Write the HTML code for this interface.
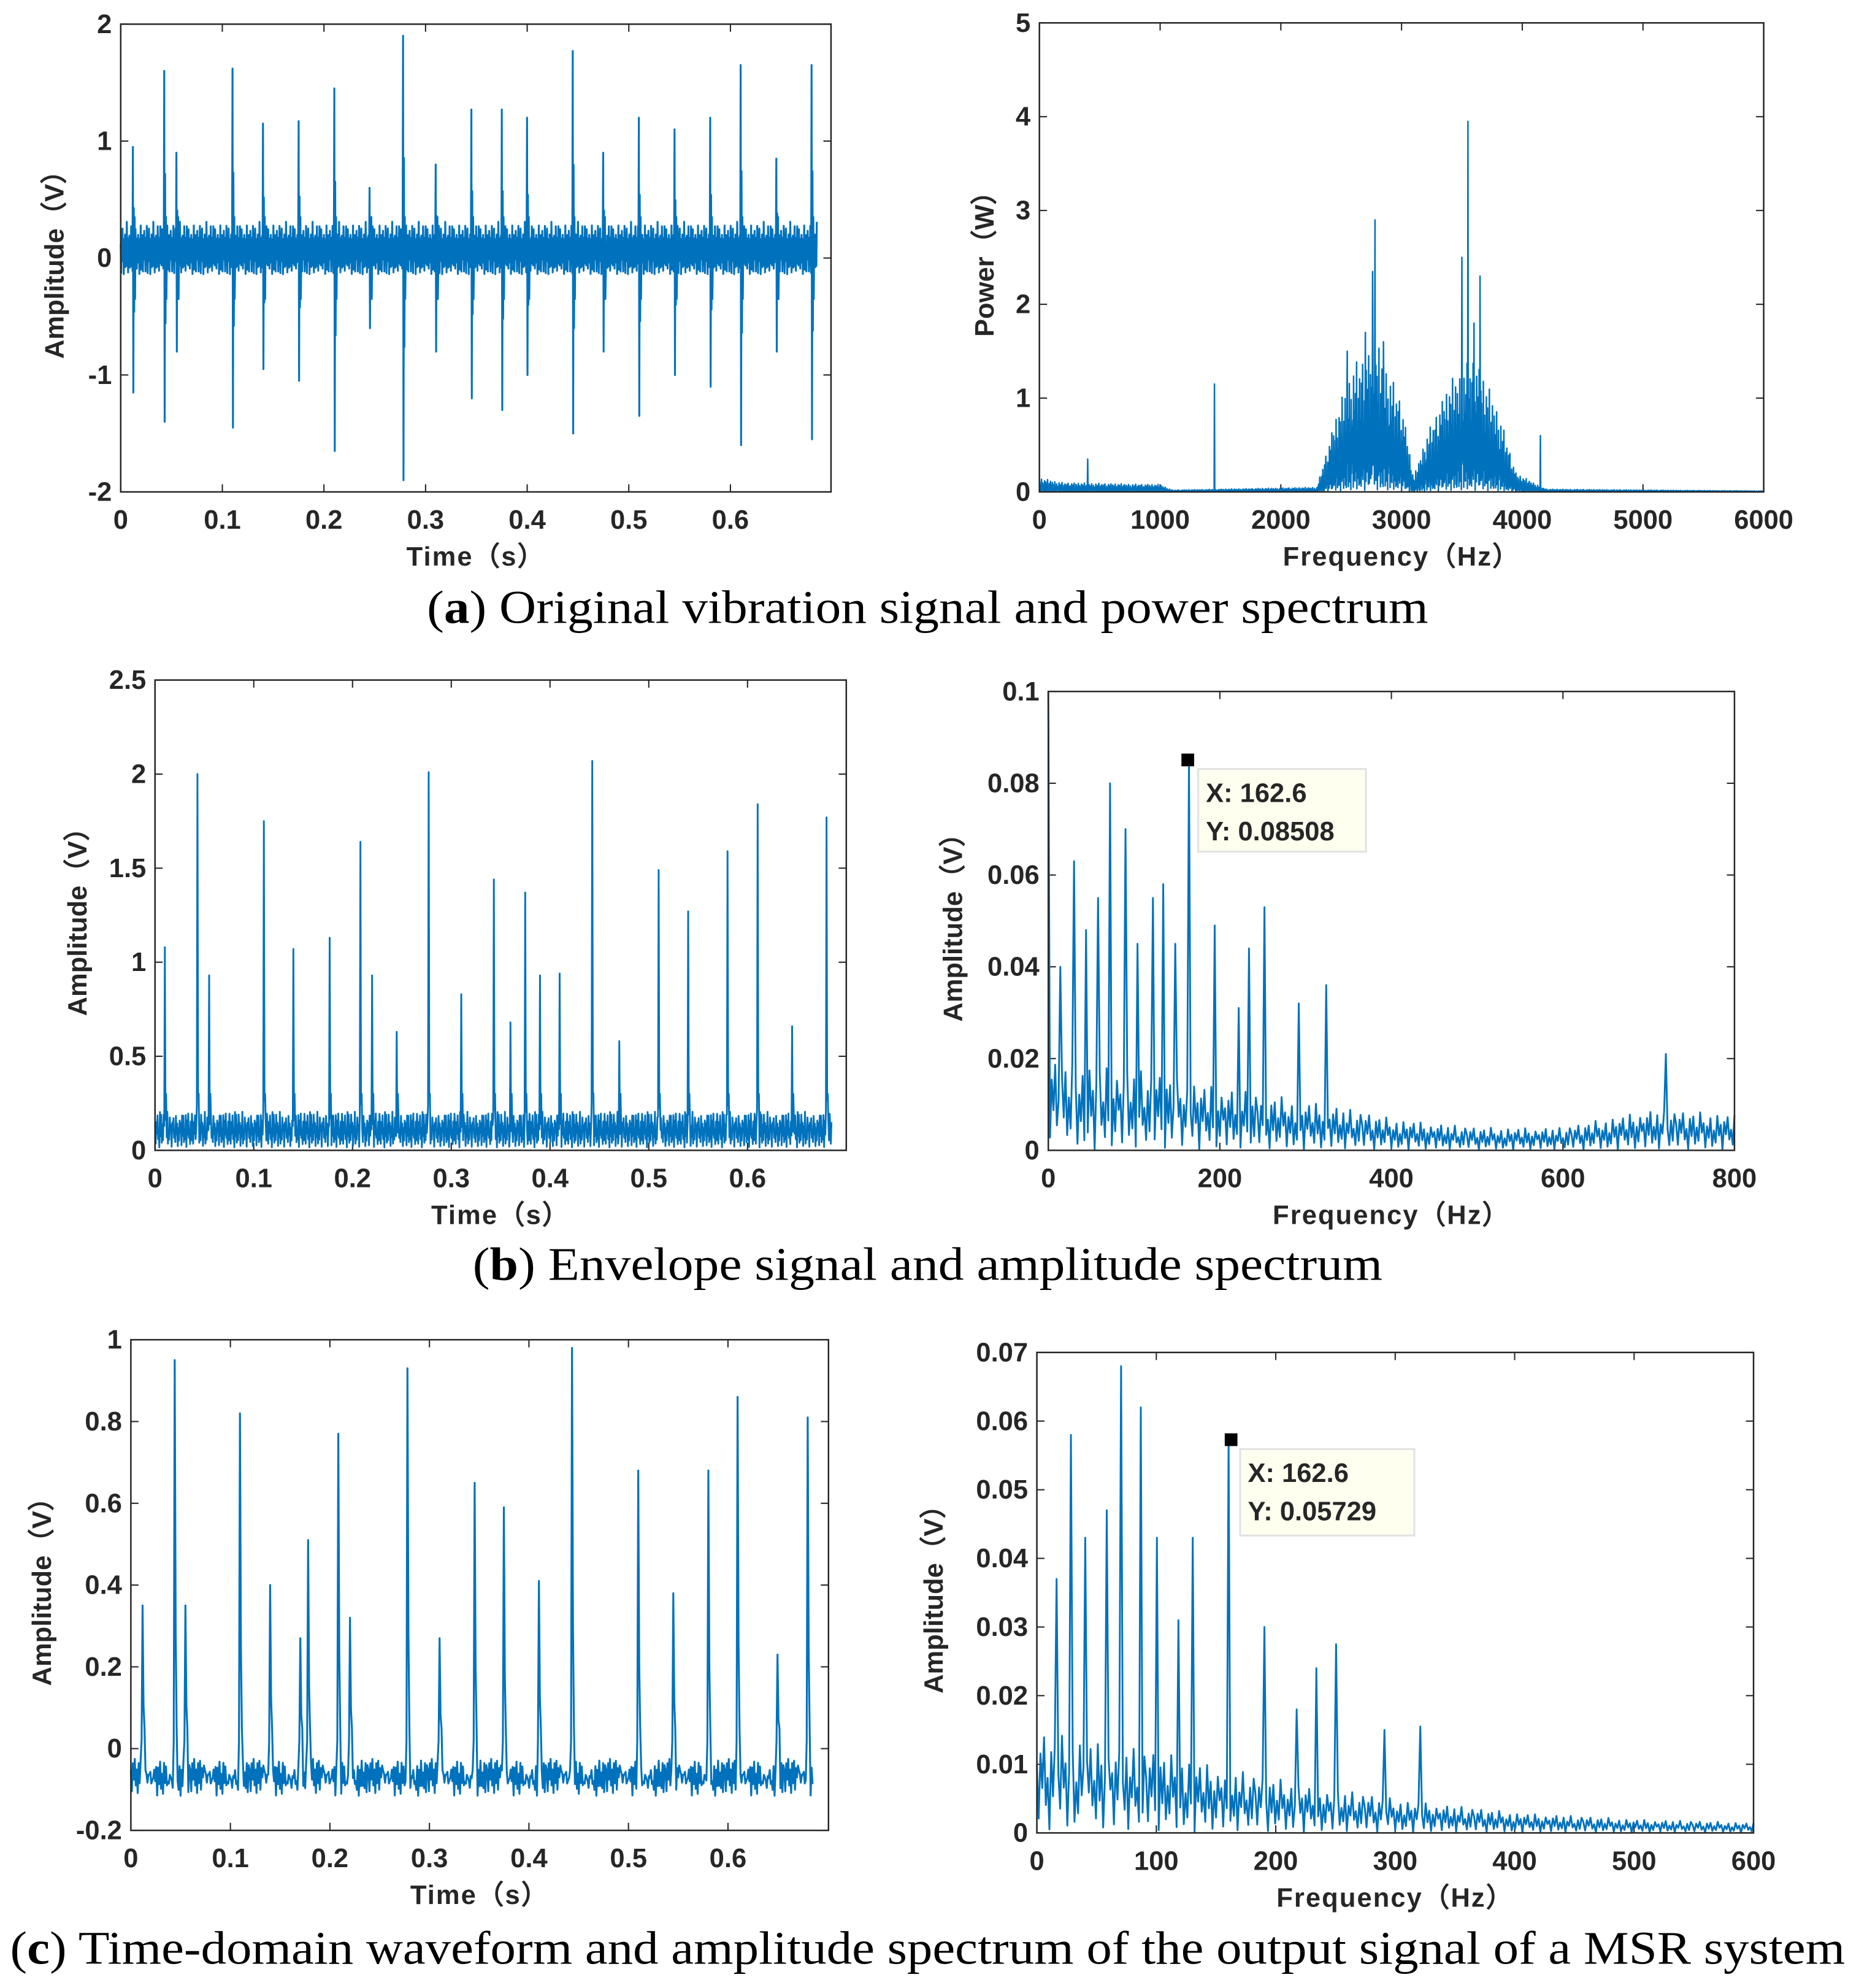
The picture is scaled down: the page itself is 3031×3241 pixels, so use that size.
<!DOCTYPE html>
<html><head><meta charset="utf-8"><style>
html,body{margin:0;padding:0;background:#fff}
svg{display:block}
text{font-family:"Liberation Sans",Arial,sans-serif;font-weight:bold;fill:#262626}
.cap{font-family:"Liberation Serif",serif;font-weight:normal;fill:#000;font-size:37px}
</style></head><body>
<svg id="fig" width="3031" height="3241" viewBox="0 0 1463 1564" preserveAspectRatio="none" xmlns="http://www.w3.org/2000/svg">
<text class="cap" x="730" y="490" text-anchor="middle" textLength="788" lengthAdjust="spacingAndGlyphs">(<tspan font-weight="bold">a</tspan>) Original vibration signal and power spectrum</text>
<text class="cap" x="730" y="1007" text-anchor="middle" textLength="716" lengthAdjust="spacingAndGlyphs">(<tspan font-weight="bold">b</tspan>) Envelope signal and amplitude spectrum</text>
<text class="cap" x="730" y="1545" text-anchor="middle" textLength="1444" lengthAdjust="spacingAndGlyphs">(<tspan font-weight="bold">c</tspan>) Time-domain waveform and amplitude spectrum of the output signal of a MSR system</text>
</svg>
<script>
const NS="http://www.w3.org/2000/svg";
const svg=document.getElementById('fig');
const BLUE="#0072BD";
// ---- data ----
const noise=[0.31,-0.72,0.55,-0.12,0.88,-0.45,0.09,-0.93,0.61,-0.27,0.74,-0.66,0.18,-0.51,0.97,-0.08,0.42,-0.85,0.26,-0.34,0.69,-0.77,0.05,-0.59,0.83,-0.21,0.37,-0.98,0.52,-0.14,0.79,-0.41,0.12,-0.69,0.92,-0.3,0.47,-0.88,0.21,-0.55,0.65,-0.04,0.33,-0.81,0.58,-0.25,0.86,-0.63,0.15,-0.47,0.72,-0.91,0.28,-0.18,0.95,-0.37,0.06,-0.74,0.49,-0.52,0.81];
const aSpikeT=[0.012,0.043,0.055,0.11,0.14,0.175,0.21,0.245,0.278,0.31,0.345,0.375,0.40,0.445,0.475,0.51,0.545,0.58,0.61,0.645,0.68];
const aSpikeUp=[0.95,1.6,0.9,1.62,1.15,1.17,1.45,0.6,1.9,0.8,1.27,1.27,1.2,1.77,0.9,1.2,1.1,1.2,1.65,0.85,1.65];
const aSpikeDn=[-1.15,-1.4,-0.8,-1.45,-0.95,-1.05,-1.65,-0.6,-1.9,-0.8,-1.2,-1.3,-1.0,-1.5,-0.8,-1.35,-1.0,-1.1,-1.6,-0.8,-1.55];
const pBandF=[0,200,1000,1100,2300,2450,2600,2800,3000,3100,3200,3400,3600,3800,3950,4200,6000];
const pBandA=[0.15,0.1,0.08,0.02,0.05,0.8,1.4,1.6,1.0,0.15,0.6,1.2,1.5,0.9,0.2,0.03,0.01];
const pPeakF=[400,1450,2550,2700,2760,2780,2850,3500,3550,3600,3650,4150];
const pPeakA=[0.35,1.15,1.5,1.7,2.35,2.9,1.6,2.5,3.95,1.8,2.3,0.6];
const bSpikeT=[0.01,0.043,0.055,0.11,0.14,0.177,0.208,0.22,0.245,0.277,0.31,0.343,0.36,0.375,0.39,0.41,0.443,0.47,0.51,0.54,0.58,0.61,0.645,0.68];
const bSpikeY=[1.08,2.0,0.93,1.75,1.07,1.13,1.64,0.93,0.63,2.01,0.83,1.44,0.68,1.37,0.93,0.94,2.07,0.58,1.49,1.27,1.59,1.84,0.66,1.77];
const bsPeakF=[0,13,30,43,58,71,89,104,121,134,147,163,193,222,234,252,291,324,720];
const bsPeakA=[0.1,0.04,0.063,0.048,0.055,0.08,0.07,0.045,0.055,0.058,0.045,0.08508,0.049,0.031,0.044,0.053,0.032,0.036,0.021];
const bsFloorF=[0,100,200,330,400,500,600,700,800];
const bsFloorA=[0.02,0.018,0.014,0.01,0.007,0.005,0.005,0.009,0.008];
const cSpikeT=[0.012,0.044,0.055,0.11,0.14,0.17,0.178,0.208,0.22,0.278,0.31,0.345,0.375,0.41,0.443,0.51,0.545,0.58,0.61,0.65,0.68];
const cSpikeY=[0.35,0.95,0.35,0.82,0.4,0.27,0.51,0.77,0.32,0.93,0.27,0.65,0.59,0.41,0.98,0.68,0.38,0.68,0.86,0.23,0.81];
const csPeakF=[17,29,41,59,70,87,101,119,131,161,190,218,234,250,291,321];
const csPeakA=[0.037,0.058,0.043,0.047,0.068,0.062,0.043,0.031,0.043,0.05729,0.03,0.018,0.024,0.0275,0.015,0.0155];
const csFloorF=[0,100,200,300,400,500,600];
const csFloorA=[0.015,0.012,0.008,0.005,0.003,0.002,0.0015];
// ---- helpers ----
function el(tag,attrs,parent){const e=document.createElementNS(NS,tag);for(const k in attrs)e.setAttribute(k,attrs[k]);(parent||svg).appendChild(e);return e;}
function interp(xs,ys,x){for(let i=1;i<xs.length;i++){if(x<=xs[i]){const r=(x-xs[i-1])/(xs[i]-xs[i-1]);return ys[i-1]+r*(ys[i]-ys[i-1]);}}return ys[ys.length-1];}
function axes(c){
  const g=el('g',{});
  
  
  c.sx=v=>c.x0+(v-c.xmin)/(c.xmax-c.xmin)*(c.x1-c.x0);
  c.sy=v=>c.y1-(v-c.ymin)/(c.ymax-c.ymin)*(c.y1-c.y0);
  c.g=g;
  c.xt.forEach((v,i)=>{const x=c.sx(v);
    el('line',{x1:x,x2:x,y1:c.y1,y2:c.y1-6,stroke:'#262626','stroke-width':1},g);
    el('line',{x1:x,x2:x,y1:c.y0,y2:c.y0+6,stroke:'#262626','stroke-width':1},g);
    const t=el('text',{x:x,y:c.y1+29,'text-anchor':'middle','font-size':21},g);t.textContent=c.xl[i];
    
    });
  c.yt.forEach((v,i)=>{const y=c.sy(v);
    el('line',{x1:c.x0,x2:c.x0+6,y1:y,y2:y,stroke:'#262626','stroke-width':1},g);
    el('line',{x1:c.x1,x2:c.x1-6,y1:y,y2:y,stroke:'#262626','stroke-width':1},g);
    const t=el('text',{x:c.x0-7,y:y+7,'text-anchor':'end','font-size':21},g);t.textContent=c.yl[i];
    
    });
  const xt=el('text',{x:(c.x0+c.x1)/2,y:c.y1+58,'text-anchor':'middle','font-size':21,'letter-spacing':1},g);xt.textContent=c.xlabel;
  
  
  const yx=c.ylx,yy=(c.y0+c.y1)/2;
  const yt=el('text',{x:yx,y:yy,'text-anchor':'middle','font-size':21,transform:`rotate(-90 ${yx} ${yy})`},g);yt.textContent=c.ylabel;
  
  
  return c;
}
function finish(c,pts){
  const d=pts.map((p,i)=>(i?'L':'M')+c.sx(p[0]).toFixed(2)+','+c.sy(Math.max(c.ymin,Math.min(c.ymax,p[1]))).toFixed(2)).join('');
  const p=el('path',{d:d,fill:'none',stroke:BLUE,'stroke-width':c.lw||1.3,'stroke-linejoin':'round'},c.g);
  
  
  const b=el('rect',{x:c.x0,y:c.y0,width:c.x1-c.x0,height:c.y1-c.y0,fill:'none',stroke:'#262626','stroke-width':1.2},c.g);
  
  
}
function tip(c,fx,fy,bx,by,w,h,l1,l2){
  const m=el('rect',{x:c.sx(fx)-5,y:c.sy(fy)-5,width:10,height:10,fill:'#000'},c.g);
  
  
  const r=el('rect',{x:bx,y:by,width:w,height:h,fill:'#fffff0',stroke:'#e2e2e2','stroke-width':1.5},c.g);
  
  
  const t1=el('text',{x:bx+6,y:by+26,'font-size':21,fill:'#111'},c.g);t1.textContent=l1;
  
  
  const t2=el('text',{x:bx+6,y:by+56,'font-size':21,fill:'#111'},c.g);t2.textContent=l2;
  
  
}
// ---- (a) left ----
(function(){
  const c=axes({name:'chart-a-time',x0:95,x1:654,y0:19,y1:387,xmin:0,xmax:0.699,ymin:-2,ymax:2,
    xt:[0,.1,.2,.3,.4,.5,.6],xl:['0','0.1','0.2','0.3','0.4','0.5','0.6'],yt:[-2,-1,0,1,2],yl:['-2','-1','0','1','2'],
    xlabel:'Time（s）',ylabel:'Amplitude（V）',ylx:50,lw:1.5});
  const N=1600,tmax=0.685,dt=tmax/N;const ys=[];
  for(let i=0;i<=N;i++)ys.push(0.06+0.27*noise[i%61]*(0.6+0.4*Math.abs(noise[(i*7)%61])));
  aSpikeT.forEach((t,k)=>{const i=Math.round(t/dt);ys[i]=aSpikeUp[k];ys[i+1]=aSpikeDn[k];ys[i+2]=aSpikeUp[k]*0.45;ys[i+3]=aSpikeDn[k]*0.4;ys[i+4]=0.35;ys[i+5]=-0.35;});
  finish(c,ys.map((y,i)=>[i*dt,y]));
})();
// ---- (a) right ----
(function(){
  const c=axes({name:'chart-a-power',x0:818,x1:1388,y0:18,y1:387,xmin:0,xmax:6000,ymin:0,ymax:5,
    xt:[0,1000,2000,3000,4000,5000,6000],xl:['0','1000','2000','3000','4000','5000','6000'],yt:[0,1,2,3,4,5],yl:['0','1','2','3','4','5'],
    xlabel:'Frequency（Hz）',ylabel:'Power（W）',ylx:782,lw:1.2});
  const pts=[];
  for(let i=0;i<=2400;i++){const f=i*2.5;const a=interp(pBandF,pBandA,f);pts.push([f,a*Math.abs(noise[i%61])*(i%2?1:0.3)]);}
  pPeakF.forEach((f,k)=>{const i=Math.round(f/2.5);pts[i][1]=pPeakA[k];});
  finish(c,pts);
})();
// ---- (b) left ----
(function(){
  const c=axes({name:'chart-b-envelope',x0:122,x1:666,y0:535,y1:905,xmin:0,xmax:0.7,ymin:0,ymax:2.5,
    xt:[0,.1,.2,.3,.4,.5,.6],xl:['0','0.1','0.2','0.3','0.4','0.5','0.6'],yt:[0,.5,1,1.5,2,2.5],yl:['0','0.5','1','1.5','2','2.5'],
    xlabel:'Time（s）',ylabel:'Amplitude（V）',ylx:68,lw:1.4});
  const N=1100,tmax=0.685,dt=tmax/N;const ys=[];
  for(let i=0;i<=N;i++)ys.push(0.1+0.09*noise[i%61]+0.06*Math.max(0,noise[(i*3)%61])*Math.abs(noise[(i*11)%61]));
  bSpikeT.forEach((t,k)=>{const i=Math.round(t/dt);ys[i]=bSpikeY[k];ys[i+1]=bSpikeY[k]*0.15;ys[i-1]=bSpikeY[k]*0.12;ys[i+2]=0.3;});
  finish(c,ys.map((y,i)=>[i*dt,Math.max(0.005,y)]));
})();
// ---- (b) right ----
(function(){
  const c=axes({name:'chart-b-spectrum',x0:825,x1:1365,y0:544,y1:905,xmin:0,xmax:800,ymin:0,ymax:0.1,
    xt:[0,200,400,600,800],xl:['0','200','400','600','800'],yt:[0,.02,.04,.06,.08,.1],yl:['0','0.02','0.04','0.06','0.08','0.1'],
    xlabel:'Frequency（Hz）',ylabel:'Amplitude（V）',ylx:757,lw:1.4});
  const pts=[];
  for(let i=0;i<=800;i+=2){const a=interp(bsFloorF,bsFloorA,i);pts.push([i,a*(0.5+0.5*noise[(i/2)%61])]);}
  bsPeakF.forEach((f,k)=>{pts[Math.round(f/2)][1]=bsPeakA[k];});
  finish(c,pts);
  tip(c,162.6,0.08508,943,605,132,65,'X: 162.6','Y: 0.08508');
})();
// ---- (c) left ----
(function(){
  const c=axes({name:'chart-c-msr-time',x0:103,x1:652,y0:1054,y1:1440,xmin:0,xmax:0.701,ymin:-0.2,ymax:1,
    xt:[0,.1,.2,.3,.4,.5,.6],xl:['0','0.1','0.2','0.3','0.4','0.5','0.6'],yt:[-0.2,0,.2,.4,.6,.8,1],yl:['-0.2','0','0.2','0.4','0.6','0.8','1'],
    xlabel:'Time（s）',ylabel:'Amplitude（V）',ylx:40,lw:1.5});
  const N=700,tmax=0.685,dt=tmax/N;const ys=[];
  for(let i=0;i<=N;i++)ys.push(-0.07+0.035*noise[i%61]+0.02*noise[(i*5)%61]);
  cSpikeT.forEach((t,k)=>{const i=Math.round(t/dt);ys[i]=cSpikeY[k];ys[i+1]=cSpikeY[k]*0.3;ys[i+2]=0.05;ys[i-1]=0.02;});
  finish(c,ys.map((y,i)=>[i*dt,y]));
})();
// ---- (c) right ----
(function(){
  const c=axes({name:'chart-c-msr-spectrum',x0:816,x1:1380,y0:1064,y1:1442,xmin:0,xmax:600,ymin:0,ymax:0.07,
    xt:[0,100,200,300,400,500,600],xl:['0','100','200','300','400','500','600'],yt:[0,.01,.02,.03,.04,.05,.06,.07],yl:['0','0.01','0.02','0.03','0.04','0.05','0.06','0.07'],
    xlabel:'Frequency（Hz）',ylabel:'Amplitude（V）',ylx:742,lw:1.4});
  const pts=[];
  for(let i=0;i<=600;i+=1.5){const a=interp(csFloorF,csFloorA,i);pts.push([i,a*(0.5+0.5*noise[Math.round(i/1.5)%61])]);}
  csPeakF.forEach((f,k)=>{pts[Math.round(f/1.5)][1]=csPeakA[k];});
  finish(c,pts);
  tip(c,162.6,0.05729,976,1140,137,68,'X: 162.6','Y: 0.05729');
})();
</script>
</body></html>
